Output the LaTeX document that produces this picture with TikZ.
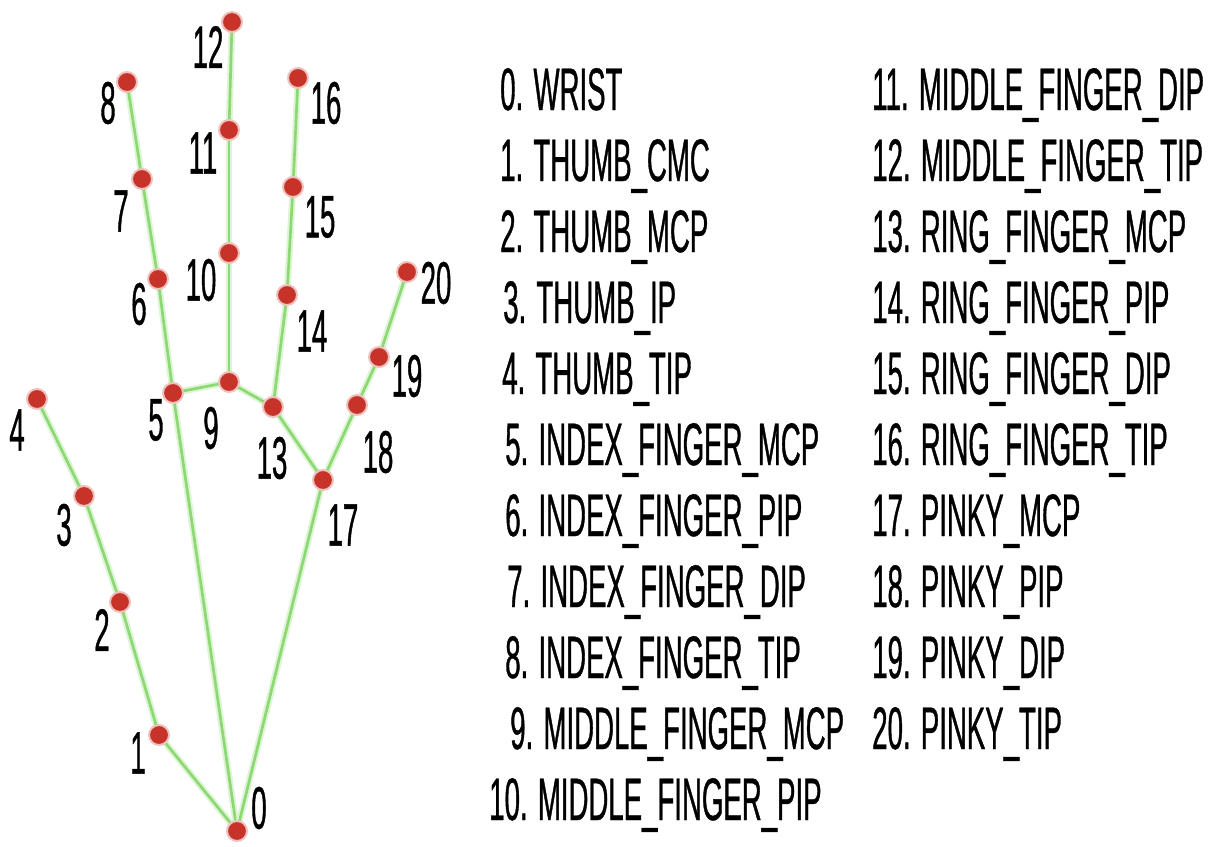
\documentclass[tikz,border=0pt]{standalone}
\usepackage{fontspec}
\setmainfont{Liberation Sans}[FakeStretch=0.46,FakeBold=0.6]
\usetikzlibrary{backgrounds}
\definecolor{jointred}{rgb}{0.78,0.2,0.16}
\definecolor{bonegreen}{rgb}{0.55,0.85,0.45}

\begin{document}
\begin{tikzpicture}[x=0.75pt,y=0.75pt,yscale=-1,
  joint/.style={circle,fill=jointred,draw=jointred!30,line width=1.5pt,minimum size=15pt,inner sep=0pt},
  bone/.style={draw=bonegreen,line width=2pt,preaction={draw=bonegreen!30,line width=5pt}},
  num/.style={inner sep=0pt,font=\fontsize{45}{54}\selectfont},
  entry/.style={anchor=base west,inner sep=0pt,font=\fontsize{45}{54}\selectfont}]
\useasboundingbox (0,0) rectangle (1209,846);

%Joints
\foreach \i/\x/\y in {0/237/831, 1/159/735, 2/120/602, 3/84/496, 4/37/399,
  5/173/393, 6/158/279, 7/142/179, 8/127/82,
  9/229/382, 10/229/253, 11/229/130, 12/232/22,
  13/273/407, 14/287/295, 15/293/187, 16/298/78,
  17/323/480, 18/357/405, 19/379/357, 20/407/272}
  \node[joint] (p\i) at (\x,\y) {};

%Bones
\begin{scope}[on background layer]
\foreach \a/\b in {0/1, 1/2, 2/3, 3/4, 0/5, 5/6, 6/7, 7/8, 5/9, 9/10, 10/11, 11/12,
  9/13, 13/14, 14/15, 15/16, 13/17, 17/18, 18/19, 19/20, 0/17}
  \draw[bone] (p\a.center) -- (p\b.center);
\end{scope}

%Joint numbers
\foreach \i/\x/\y in {0/259/808, 1/138/753, 2/102/630, 3/64/525, 4/17/430,
  5/156/420, 6/139/304, 7/121/211, 8/108/103,
  9/211/428, 10/201/280, 11/203/153, 12/208/47,
  13/272/458, 14/312/331, 15/320/217, 16/326/103,
  17/343/525, 18/378/452, 19/407/376, 20/436/283}
  \node[num] (n\i) at (\x,\y) {\i};

% Legend, left column
\node[entry] (t0) at (500,110) {0. WRIST};
\node[entry] (t1) at (500,181) {1. THUMB\_CMC};
\node[entry] (t2) at (500,252) {2. THUMB\_MCP};
\node[entry] (t3) at (503,323) {3. THUMB\_IP};
\node[entry] (t4) at (502,394) {4. THUMB\_TIP};
\node[entry] (t5) at (505,465) {5. INDEX\_FINGER\_MCP};
\node[entry] (t6) at (505,536) {6. INDEX\_FINGER\_PIP};
\node[entry] (t7) at (507,607) {7. INDEX\_FINGER\_DIP};
\node[entry] (t8) at (505,678) {8. INDEX\_FINGER\_TIP};
\node[entry] (t9) at (510,749) {9. MIDDLE\_FINGER\_MCP};
\node[entry] (t10) at (489,820) {10. MIDDLE\_FINGER\_PIP};
% Legend, right column
\node[entry] (t11) at (872,110) {11. MIDDLE\_FINGER\_DIP};
\node[entry] (t12) at (872,181) {12. MIDDLE\_FINGER\_TIP};
\node[entry] (t13) at (872,252) {13. RING\_FINGER\_MCP};
\node[entry] (t14) at (872,323) {14. RING\_FINGER\_PIP};
\node[entry] (t15) at (872,394) {15. RING\_FINGER\_DIP};
\node[entry] (t16) at (872,465) {16. RING\_FINGER\_TIP};
\node[entry] (t17) at (872,536) {17. PINKY\_MCP};
\node[entry] (t18) at (872,607) {18. PINKY\_PIP};
\node[entry] (t19) at (872,678) {19. PINKY\_DIP};
\node[entry] (t20) at (872,749) {20. PINKY\_TIP};

\end{tikzpicture}
\end{document}
